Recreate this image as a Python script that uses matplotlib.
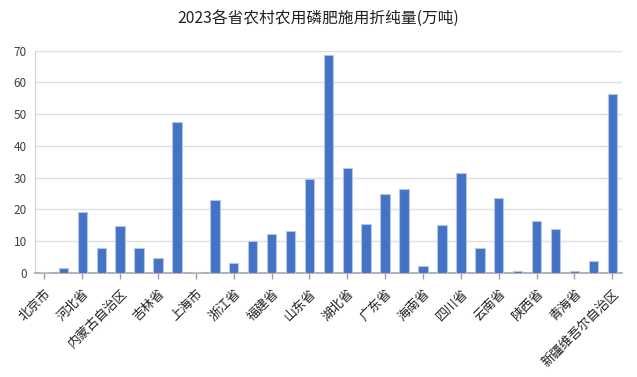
import matplotlib
matplotlib.use("Agg")
import matplotlib.pyplot as plt

plt.rcParams['font.family'] = ['Noto Sans CJK SC', 'DejaVu Sans']

provinces = ["北京市", "天津市", "河北省", "山西省", "内蒙古自治区", "辽宁省", "吉林省", "黑龙江省",
             "上海市", "江苏省", "浙江省", "安徽省", "福建省", "江西省", "山东省", "河南省",
             "湖北省", "湖南省", "广东省", "广西壮族自治区", "海南省", "重庆市", "四川省", "贵州省",
             "云南省", "西藏自治区", "陕西省", "甘肃省", "青海省", "宁夏回族自治区", "新疆维吾尔自治区"]
values = [0.4, 1.4, 19.3, 7.7, 14.9, 7.7, 4.7, 47.4,
          0.3, 23.0, 3.1, 10.1, 12.1, 13.3, 29.6, 68.6,
          33.0, 15.5, 24.8, 26.5, 2.3, 15.1, 31.4, 8.0,
          23.5, 0.5, 16.2, 13.9, 0.5, 3.8, 56.4]
yticks = [0, 10, 20, 30, 40, 50, 60, 70]
title = "2023各省农村农用磷肥施用折纯量(万吨)"

fig = plt.figure(figsize=(6.37, 3.77), dpi=100)
ax = fig.add_axes([0.055, 0.276, 0.921, 0.590])

x = list(range(len(provinces)))
ax.bar(x, values, width=0.5, color="#4472C4", edgecolor="#B4C7E7", linewidth=0.8, zorder=3)

ax.set_xlim(-0.5, len(provinces) - 0.5)
ax.set_ylim(0, 70)
ax.set_yticks(yticks)
ax.yaxis.grid(True, color="#E0E0E0", linewidth=1, zorder=0)
ax.tick_params(axis='y', length=0, labelsize=8.5, labelcolor="#404040", pad=6)

ax.set_xticks(x[::2])
ax.set_xticklabels(provinces[::2], rotation=45, ha='right', rotation_mode='anchor', fontsize=9.3, color="#202020")
ax.tick_params(axis='x', length=4, color="#A0A0A0", width=1, pad=6)

for s in ['top', 'right']:
    ax.spines[s].set_visible(False)
ax.spines['left'].set_color("#D0D0D0")
ax.spines['bottom'].set_color("#A6A6A6")
ax.spines['bottom'].set_linewidth(1.2)

fig.text(0.5, 0.952, title, ha='center', va='center', fontsize=11.3, color="#202020")

fig.savefig("out.png", dpi=100)
